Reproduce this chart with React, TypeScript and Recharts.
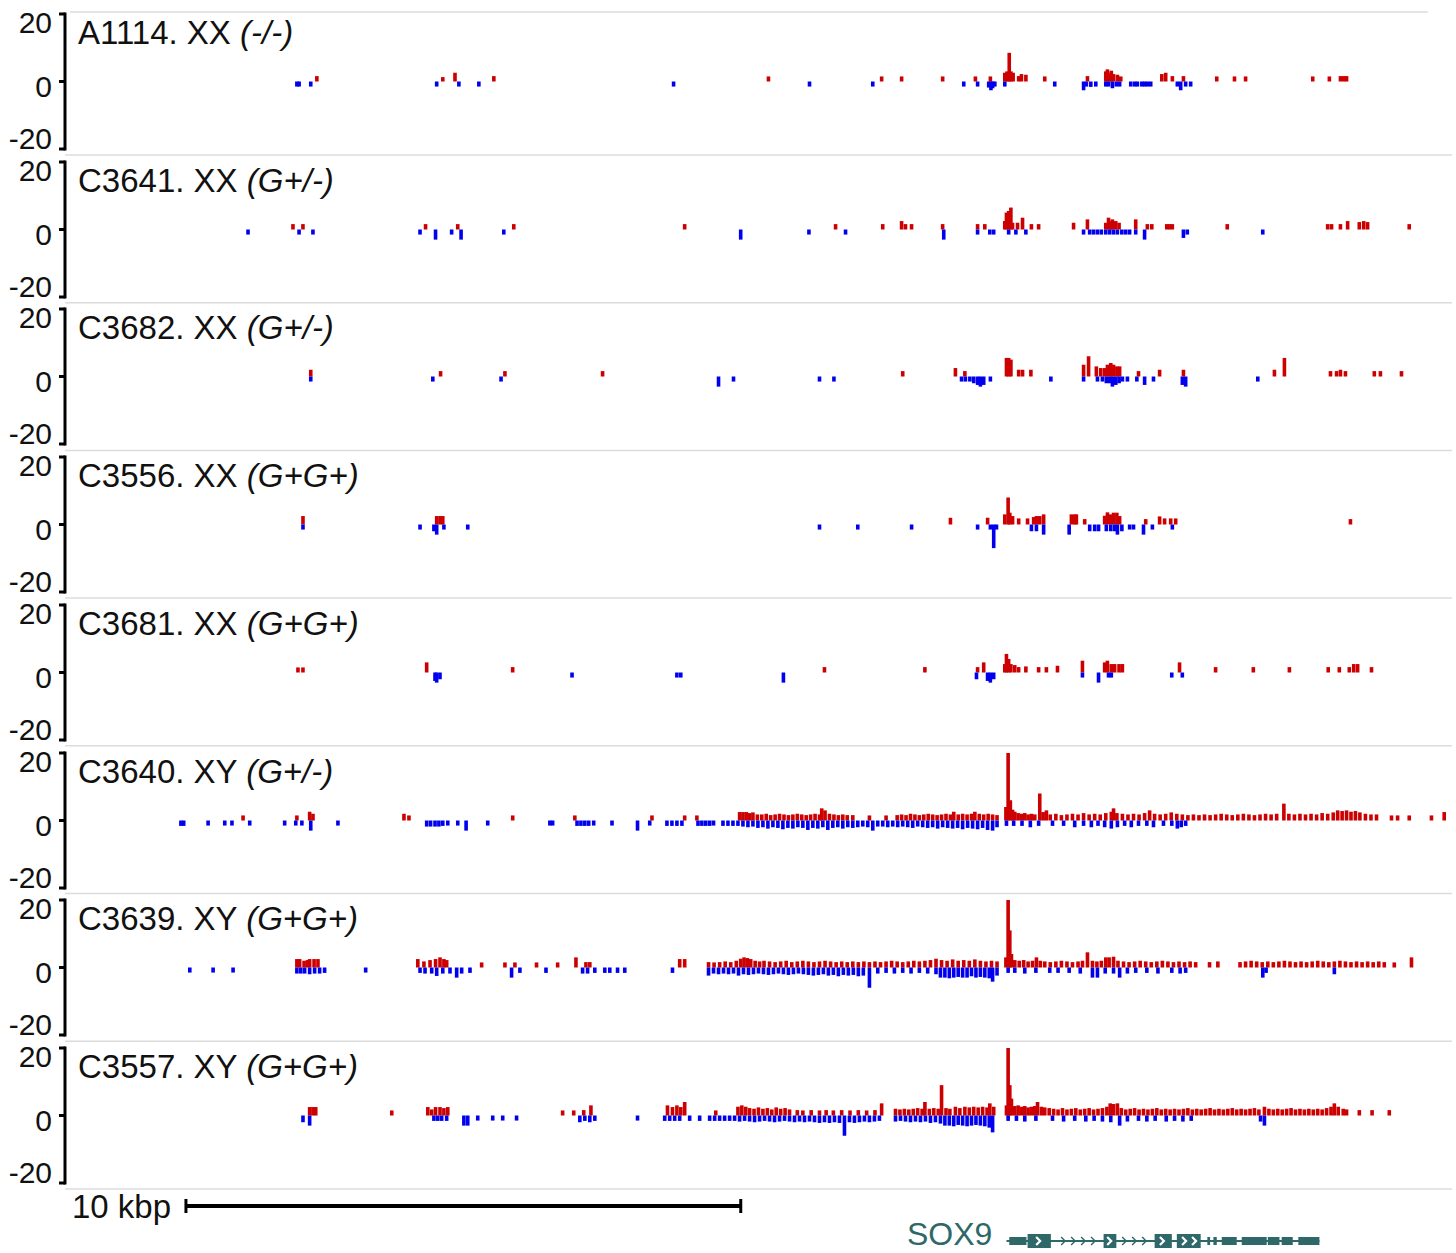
import React from "react";
import {
  Bar,
  ComposedChart,
  ReferenceArea,
  ReferenceLine,
  Scatter,
  XAxis,
  YAxis,
} from "recharts";

// positions in kb from the left edge of the view, values are read counts (+ red / - blue)
const a1114Up = [[4.54,1.6],[6.81,1.3],[7.03,2.6],[7.73,1.6],[12.68,1.5],[14.72,1.5],[15.08,1.5],[15.82,1.5],[16.41,1.5],[16.68,1.5],[16.94,2.6],[16.98,3],[17.02,8.5],[17.05,3],[17.09,2.6],[17.19,1.6],[17.24,2.2],[17.32,2],[17.66,1.5],[18.43,1.6],[18.76,3],[18.79,3.6],[18.83,2.6],[18.86,3.2],[18.9,2.2],[18.97,2],[19.03,1.5],[19.77,2.2],[19.84,2.6],[19.96,1.6],[20.16,1.6],[20.76,1.5],[21.08,1.5],[21.28,1.5],[22.49,1.5],[22.79,1.5],[22.99,1.6],[23.05,1.6],[23.1,1.6]];
const a1114Down = [[4.18,-1.5],[4.22,-1.5],[4.43,-1.5],[6.7,-1.5],[7.1,-1.5],[7.46,-1.5],[10.97,-1.5],[13.42,-1.5],[14.56,-1.5],[16.2,-1.5],[16.45,-1.5],[16.65,-1.8],[16.69,-2.6],[16.72,-2],[16.76,-1.5],[16.94,-1.5],[17.84,-1.5],[18.36,-2.6],[18.41,-1.5],[18.49,-1.6],[18.58,-1.5],[18.76,-1.5],[18.81,-1.5],[18.88,-2],[18.95,-1.5],[19.01,-1.5],[19.21,-1.5],[19.28,-1.5],[19.33,-1.5],[19.41,-1.5],[19.46,-1.5],[19.51,-1.5],[19.57,-1.5],[20.05,-1.5],[20.11,-2.6],[20.2,-1.5],[20.29,-1.5]];

const c3641Up = [[4.11,1.6],[4.29,1.6],[6.5,1.6],[7.08,1.6],[8.09,1.6],[11.17,1.6],[13.89,1.6],[14.74,1.6],[15.08,2.5],[15.15,1.6],[15.26,1.6],[15.82,1.6],[16.45,1.6],[16.58,1.6],[16.94,2.5],[16.97,5],[17.01,5.5],[17.05,6.5],[17.08,2],[17.17,2],[17.26,3.5],[17.42,1.6],[17.55,1.6],[18.18,2],[18.43,3],[18.76,2],[18.81,3.5],[18.85,2.5],[18.88,3],[18.94,2.5],[19.0,2],[19.3,3],[19.51,1.6],[19.59,1.6],[19.86,1.6],[19.91,1.6],[19.96,1.6],[20.95,1.6],[22.76,1.6],[22.83,1.6],[22.99,1.6],[23.12,2.5],[23.33,2.2],[23.41,2.5],[23.48,2.2],[24.23,1.6]];
const c3641Down = [[3.3,-1.5],[4.22,-1.5],[4.47,-1.5],[6.4,-1.5],[6.68,-3],[6.97,-1.5],[7.14,-3],[7.91,-1.5],[12.18,-3],[13.41,-1.5],[14.07,-1.5],[15.84,-3],[16.45,-1.5],[16.67,-1.5],[16.74,-1.5],[17.01,-1.5],[17.14,-1.5],[17.32,-1.5],[18.36,-1.5],[18.47,-1.5],[18.54,-1.5],[18.61,-1.5],[18.68,-1.5],[18.76,-1.5],[18.83,-1.5],[18.9,-1.5],[18.97,-1.5],[19.05,-1.5],[19.12,-1.5],[19.19,-1.5],[19.3,-1.5],[19.46,-3],[20.16,-2.5],[20.23,-1.5],[21.59,-1.5]];

const c3682Up = [[4.43,2],[6.77,1.6],[7.93,1.6],[9.69,1.6],[15.1,1.6],[16.05,2.5],[16.22,1.6],[16.97,5.5],[17.01,5.5],[17.05,5],[17.19,2],[17.26,2],[17.41,2],[18.36,3.5],[18.45,6],[18.59,3],[18.67,2.5],[18.74,2.5],[18.79,3.5],[18.85,4],[18.9,3.5],[18.96,3],[19.01,3],[19.35,1.6],[19.73,2],[20.16,2],[21.8,2],[21.98,5.5],[22.81,1.6],[22.92,1.6],[22.99,2],[23.08,1.6],[23.6,1.6],[23.71,1.6],[24.09,1.6]];
const c3682Down = [[4.43,-1.5],[6.63,-1.5],[7.86,-1.5],[11.78,-3],[12.05,-1.5],[13.6,-1.5],[13.86,-1.5],[16.16,-1.5],[16.23,-1.5],[16.31,-1.5],[16.38,-2],[16.45,-2.5],[16.5,-3],[16.56,-2.5],[16.68,-1.5],[17.77,-1.5],[18.36,-1.5],[18.61,-1.5],[18.7,-1.5],[18.77,-2],[18.83,-2],[18.88,-3],[18.94,-2.5],[19.0,-2],[19.06,-1.5],[19.15,-1.5],[19.32,-1.5],[19.46,-2.5],[19.62,-1.5],[20.14,-2.5],[20.2,-3],[21.5,-1.5]];

const c3556Up = [[4.29,2.5],[6.7,2.5],[6.76,2.5],[6.81,2.5],[15.96,2],[16.63,2],[16.94,3],[17.0,8],[17.03,3.5],[17.08,2.5],[17.19,1.8],[17.35,1.8],[17.46,2.2],[17.51,2.5],[17.57,2.5],[17.64,3],[18.14,3],[18.2,3],[18.23,3],[18.38,1.6],[18.74,2.6],[18.79,3.6],[18.85,3],[18.9,3.5],[18.96,3.5],[19.01,2.5],[19.48,1.6],[19.73,2.4],[19.82,1.8],[19.93,1.8],[20.02,1.8],[23.17,1.6]];
const c3556Down = [[4.29,-1.5],[6.4,-1.5],[6.65,-2],[6.7,-3],[6.83,-1.5],[7.26,-1.5],[13.6,-1.5],[14.29,-1.5],[15.26,-1.5],[16.45,-1.5],[16.68,-1.5],[16.74,-7],[16.79,-1.5],[17.42,-2],[17.51,-2],[17.64,-3],[18.1,-3],[18.47,-2],[18.56,-2],[18.63,-2],[18.77,-2],[18.85,-2],[18.92,-2],[18.97,-3],[19.05,-2],[19.19,-1.5],[19.26,-1.5],[19.44,-3],[19.6,-1.5],[19.96,-1.5]];

const c3681Up = [[4.2,1.5],[4.29,1.5],[6.52,3],[8.07,1.6],[13.69,1.6],[15.5,1.6],[16.45,1.6],[16.56,3],[16.94,2.5],[16.97,5.5],[17.01,4],[17.05,2.5],[17.12,2.2],[17.19,1.6],[17.32,1.8],[17.55,1.6],[17.69,1.6],[17.89,2],[18.34,3.5],[18.74,3],[18.79,3.5],[18.86,2.5],[18.92,2.5],[19.0,2.5],[19.06,2.5],[20.09,3],[20.74,1.6],[21.42,1.6],[22.07,1.6],[22.77,1.6],[22.97,1.6],[23.15,1.6],[23.23,2.5],[23.3,2.5],[23.55,1.6]];
const c3681Down = [[6.67,-2.5],[6.7,-3],[6.76,-2],[9.14,-1.5],[11.03,-1.5],[11.1,-1.5],[12.95,-3],[16.43,-2],[16.63,-2.5],[16.68,-3],[16.74,-2],[18.34,-1.5],[18.63,-3],[18.81,-1.5],[18.86,-1.5],[19.95,-1.5],[20.14,-1.5]];

const c3640Up = [[3.21,1.5],[4.18,1.5],[4.41,2.6],[4.47,2],[6.11,2],[6.2,1.5],[8.07,1.5],[9.19,1.5],[10.58,1.5],[11.17,1.5],[11.39,1.5],
  [12.16,2.5],[12.22,2.5],[12.28,2.5],[12.34,2.2],[12.4,2.4],[12.48,1.8],[12.56,1.8],[12.64,2],[12.72,1.6],[12.8,1.8],[12.88,2],[12.96,1.8],[13.04,1.6],[13.12,1.8],[13.2,2],[13.28,1.8],[13.36,1.6],[13.44,1.8],[13.52,2],[13.6,1.8],[13.64,3.6],[13.7,3],[13.78,2],[13.86,1.8],[13.94,1.6],[14.02,1.8],[14.1,1.6],[14.2,1.6],[14.5,1.5],[14.8,1.5],
  [15.0,1.6],[15.08,1.8],[15.16,1.6],[15.24,2],[15.32,1.8],[15.4,1.6],[15.48,1.8],[15.56,2],[15.64,1.8],[15.72,1.6],[15.8,1.8],[15.88,2],[15.96,1.8],[16.02,2.6],[16.1,1.8],[16.18,2],[16.26,1.8],[16.34,2],[16.4,2.6],[16.48,2],[16.56,1.8],[16.64,2],[16.72,1.8],[16.8,1.6],
  [16.96,4],[17.0,20],[17.04,6],[17.08,3.2],[17.12,2.6],[17.18,2.2],[17.24,2],[17.3,2.2],[17.36,1.8],[17.42,2],[17.48,1.8],[17.57,8],[17.63,2.5],[17.69,3],
  [17.76,1.8],[17.86,2],[17.96,1.6],[18.06,1.8],[18.16,2],[18.26,1.8],[18.36,2.2],[18.46,1.8],[18.56,2],[18.66,1.8],[18.76,2.2],[18.86,2.6],[18.9,3.6],[18.96,2.2],[19.06,2],[19.16,1.8],[19.26,2],[19.36,1.8],[19.46,2.2],[19.55,3],[19.64,2],[19.74,1.8],[19.84,2],[19.94,2.4],[20.04,2],[20.14,1.8],[20.24,1.6],[20.34,1.8],[20.44,1.6],[20.54,1.8],[20.64,1.6],[20.74,1.8],[20.84,2],[20.94,1.8],[21.04,1.6],[21.14,1.8],[21.24,2],[21.34,1.8],[21.44,1.6],[21.54,1.8],[21.64,2],[21.74,1.8],[21.84,2],[21.97,5],[22.06,2],[22.16,1.8],[22.26,2],[22.36,1.8],[22.46,2],[22.56,1.8],[22.66,2.2],[22.76,2],[22.86,2.4],[22.94,3],[23.02,2.8],[23.1,3],[23.18,2.6],[23.26,2.8],[23.34,2.4],[23.44,2],[23.54,1.8],[23.64,1.8],
  [23.91,1.5],[24.02,1.5],[24.23,1.5],[24.63,1.5],[24.86,2.5]];
const c3640Down = [[2.09,-1.6],[2.14,-1.6],[2.58,-1.5],[2.88,-1.5],[3.01,-1.5],[3.33,-1.5],[3.96,-1.5],[4.16,-1.5],[4.27,-1.5],[4.43,-3],[4.92,-1.5],[6.52,-1.8],[6.59,-1.8],[6.67,-1.8],[6.74,-1.8],[6.81,-1.6],[6.9,-1.5],[7.08,-1.5],[7.23,-3],[7.62,-1.5],[8.74,-1.5],[8.79,-1.5],[9.23,-1.6],[9.3,-1.6],[9.37,-1.6],[9.44,-1.6],[9.53,-1.5],[9.86,-1.5],[10.32,-3],[10.54,-1.5],[10.85,-1.6],[10.94,-1.6],[11.03,-1.6],[11.12,-1.6],[11.41,-1.6],[11.48,-1.6],[11.55,-1.6],[11.62,-1.6],[11.69,-1.5],[11.86,-1.6],[11.95,-1.6],[12.04,-1.6],[12.13,-1.6],
  [12.22,-1.8],[12.31,-2],[12.4,-1.8],[12.49,-2.2],[12.58,-2],[12.67,-2.4],[12.76,-2],[12.85,-2.2],[12.94,-2.6],[13.03,-2.2],[13.12,-2.4],[13.21,-2],[13.3,-2.2],[13.39,-2.8],[13.48,-2.2],[13.57,-2.4],[13.66,-2],[13.75,-2.8],[13.84,-2.2],[13.93,-2],[14.02,-2.4],[14.11,-2],[14.2,-2.2],[14.29,-2],[14.38,-1.8],[14.47,-2],[14.56,-3],[14.65,-1.8],[14.74,-1.8],[14.83,-2],[14.92,-1.8],[15.01,-2],[15.1,-1.8],[15.19,-2],[15.28,-2.2],[15.37,-1.8],[15.46,-2],[15.55,-2.2],[15.64,-2],[15.73,-2.4],[15.82,-2],[15.91,-2.2],[16.0,-2.4],[16.09,-2.2],[16.18,-2.6],[16.27,-2.2],[16.36,-2.4],[16.45,-2.6],[16.54,-2.2],[16.63,-2.8],[16.72,-3],[16.8,-2],
  [16.97,-1.6],[17.1,-1.6],[17.25,-1.6],[17.4,-2],[17.55,-1.6],[17.8,-1.6],[18.0,-1.6],[18.2,-2],[18.36,-1.6],[18.5,-2],[18.62,-1.6],[18.74,-2],[18.86,-2.4],[18.97,-2],[19.1,-1.6],[19.22,-2],[19.35,-1.6],[19.5,-1.6],[19.62,-2],[19.8,-1.6],[19.95,-1.6],[20.05,-2.4],[20.12,-2],[20.2,-1.6]];

const c3639Up = [[4.18,2.5],[4.23,2.5],[4.31,2],[4.37,2.2],[4.41,2.5],[4.49,2.5],[4.56,2.5],[6.36,2.5],[6.47,1.8],[6.58,2.2],[6.68,2.5],[6.76,3],[6.83,2.5],[6.88,2.2],[7.51,1.5],[7.93,1.5],[8.11,1.5],[8.5,1.5],[8.88,1.5],[9.21,3],[9.39,1.6],[9.46,1.6],[11.08,2.5],[11.17,2.5],
  [11.6,1.6],[11.7,1.5],[11.8,1.6],[11.9,1.8],[12.0,1.6],[12.1,2],[12.18,2.6],[12.24,3],[12.3,2.8],[12.36,2.5],[12.44,2],[12.52,1.8],[12.6,2],[12.7,1.8],[12.8,1.6],[12.9,1.8],[13.0,2],[13.1,1.6],[13.2,1.8],[13.3,2],[13.4,1.8],[13.5,1.6],[13.6,1.8],[13.7,2],[13.8,1.8],[13.9,1.6],[14.0,1.8],[14.1,1.6],[14.2,1.8],[14.3,1.6],[14.4,1.8],[14.5,1.6],[14.6,1.8],[14.7,1.6],[14.8,1.8],[14.9,2],[15.0,1.8],[15.1,1.6],[15.2,1.8],[15.3,2],[15.4,1.8],[15.5,2],[15.6,2.2],[15.7,2.6],[15.8,2.2],[15.9,2],[16.0,2.4],[16.1,2],[16.2,2.2],[16.3,2],[16.4,2.4],[16.5,2],[16.6,1.8],[16.7,2],[16.8,1.8],
  [16.96,3],[17.0,20.5],[17.03,11],[17.06,4],[17.12,2.2],[17.2,2],[17.28,2.2],[17.36,1.8],[17.44,2],[17.51,3],[17.58,2],
  [17.66,1.8],[17.76,1.6],[17.86,1.8],[17.96,2],[18.06,1.8],[18.16,1.6],[18.26,1.8],[18.34,2],[18.43,4.5],[18.52,2],[18.6,1.8],[18.68,2],[18.76,3],[18.82,3],[18.9,3.2],[18.98,2],[19.08,1.8],[19.18,1.6],[19.28,1.8],[19.38,2],[19.48,1.8],[19.58,1.6],[19.68,1.8],[19.78,2],[19.88,1.8],[19.98,1.6],[20.08,1.8],[20.18,1.6],[20.28,1.8],[20.38,1.6],[20.63,1.6],[20.78,1.8],
  [21.18,1.6],[21.28,1.8],[21.38,2],[21.48,1.8],[21.58,1.6],[21.68,1.8],[21.78,1.6],[21.88,1.8],[21.98,2],[22.08,1.8],[22.18,1.6],[22.28,1.8],[22.38,1.6],[22.48,1.8],[22.58,2],[22.68,1.8],[22.78,1.6],[22.88,1.8],[22.98,2],[23.08,1.8],[23.18,1.6],[23.28,1.8],[23.38,1.6],[23.48,1.8],[23.58,1.6],[23.68,1.8],[23.78,1.6],
  [23.96,1.5],[24.27,3]];
const c3639Down = [[2.25,-1.5],[2.67,-1.5],[3.03,-1.5],[4.18,-1.8],[4.25,-1.8],[4.32,-1.8],[4.41,-2],[4.5,-1.8],[4.59,-1.8],[4.68,-1.6],[5.42,-1.5],[6.4,-1.6],[6.49,-1.8],[6.61,-1.8],[6.7,-2.5],[6.81,-1.8],[6.94,-1.8],[7.06,-3],[7.15,-1.8],[7.3,-1.6],[8.05,-3],[8.2,-1.6],[8.67,-1.6],[9.33,-1.8],[9.42,-1.8],[9.55,-1.6],[9.73,-1.6],[9.82,-1.6],[9.96,-1.6],[10.09,-1.6],[10.95,-1.6],
  [11.6,-2.4],[11.69,-1.8],[11.78,-2],[11.87,-1.8],[11.96,-2],[12.05,-1.8],[12.14,-2.4],[12.23,-2],[12.32,-2.2],[12.41,-2],[12.5,-1.8],[12.59,-2],[12.68,-2.2],[12.77,-2],[12.86,-1.8],[12.95,-2],[13.04,-2.2],[13.13,-2],[13.22,-1.8],[13.31,-2],[13.4,-2.2],[13.49,-2.4],[13.58,-2.2],[13.67,-2],[13.76,-2.4],[13.85,-2.2],[13.94,-2.6],[14.03,-2.2],[14.12,-2.4],[14.21,-2.2],[14.3,-2.6],[14.39,-2.4],[14.5,-6],
  [14.65,-1.8],[14.8,-1.6],[14.95,-1.8],[15.1,-1.6],[15.25,-1.8],[15.4,-1.6],[15.55,-1.8],[15.7,-2],[15.78,-3],[15.86,-3],[15.94,-3.2],[16.02,-3],[16.1,-2.8],[16.18,-3],[16.26,-3],[16.34,-2.6],[16.42,-3],[16.5,-2.8],[16.58,-3],[16.66,-3.2],[16.72,-4.2],[16.8,-2.4],
  [17.0,-1.6],[17.12,-1.6],[17.3,-1.8],[17.5,-1.6],[17.75,-1.6],[17.9,-1.6],[18.1,-1.6],[18.3,-1.8],[18.52,-3],[18.61,-3],[18.75,-1.8],[18.9,-1.8],[19.01,-3],[19.15,-1.8],[19.3,-1.6],[19.5,-1.6],[19.7,-1.8],[19.95,-1.6],[20.1,-1.8],[20.2,-1.6],[21.59,-3],[21.65,-1.6],[22.88,-2]];

const c3557Up = [[4.41,2.5],[4.47,2.5],[4.52,2.5],[5.89,1.5],[6.54,2.5],[6.61,1.8],[6.68,2.5],[6.76,2.5],[6.83,2.2],[6.9,2.5],[8.97,1.5],[9.17,1.5],[9.35,1.6],[9.48,3],[10.86,3],[10.95,2.5],[11.03,3],[11.1,2.5],[11.17,4],[11.73,1.5],
  [12.13,2.6],[12.2,3],[12.27,2.6],[12.34,2.2],[12.42,2],[12.5,2.4],[12.58,2],[12.66,2.2],[12.74,1.8],[12.82,2.4],[12.9,2],[12.98,2.2],[13.06,1.8],[13.2,1.6],[13.3,1.5],[13.45,1.6],[13.6,1.5],[13.72,1.6],[13.85,1.5],[14.0,1.6],[14.15,1.5],[14.3,1.6],[14.45,1.5],[14.6,1.6],[14.72,3.6],
  [14.97,2],[15.05,1.8],[15.13,2],[15.21,1.8],[15.29,2],[15.37,2.2],[15.45,2],[15.5,4],[15.58,2],[15.66,2.2],[15.74,2],[15.8,9],[15.88,2.2],[15.95,2],[16.05,2.6],[16.13,2.2],[16.22,2.6],[16.3,2.4],[16.38,2.6],[16.46,2.4],[16.54,2.6],[16.62,2.4],[16.67,3.6],[16.74,2.6],
  [16.97,3],[17.0,20],[17.03,9],[17.06,5],[17.12,2.8],[17.18,3],[17.24,2.6],[17.3,2.8],[17.36,2.4],[17.42,2.6],[17.48,2.8],[17.53,4],[17.6,2.6],[17.66,2.4],[17.74,2.2],
  [17.82,2],[17.9,1.8],[17.98,2.2],[18.06,1.8],[18.14,2],[18.22,2.2],[18.3,1.8],[18.38,2],[18.46,2.2],[18.54,1.8],[18.62,2],[18.7,2.2],[18.78,2.6],[18.84,3.6],[18.9,3.4],[18.97,3.6],[19.04,2.2],[19.12,1.8],[19.2,2],[19.28,2.2],[19.36,1.8],[19.44,2],[19.52,1.8],[19.6,2],[19.68,2.2],[19.76,1.8],[19.84,2],[19.92,1.8],[20.0,2],[20.08,1.8],[20.16,2],[20.24,2.2],[20.32,1.8],[20.4,2],[20.48,1.8],[20.56,2],[20.64,2.2],[20.72,1.8],[20.8,2],[20.88,1.8],[20.96,2],[21.04,2.2],[21.12,1.8],[21.2,2],[21.28,1.8],[21.36,2],[21.44,2.2],[21.52,1.8],[21.62,2.6],[21.7,2],[21.78,1.8],[21.86,2],[21.94,1.8],[22.02,2],[22.1,2.2],[22.18,1.8],[22.26,2],[22.34,1.8],[22.42,2],[22.5,1.8],[22.58,2],[22.66,1.8],[22.74,2.2],[22.82,2.6],[22.88,3.6],[22.95,2.6],[23.04,2],[23.1,1.8],
  [23.33,1.6],[23.56,1.6],[23.87,1.6]];
const c3557Down = [[4.29,-2],[4.41,-3],[6.65,-1.6],[6.72,-1.6],[6.79,-1.6],[6.88,-1.6],[7.19,-3],[7.26,-3],[7.44,-1.5],[7.71,-1.5],[7.89,-1.5],[8.14,-1.5],[9.28,-2],[9.37,-1.6],[9.46,-2],[9.55,-1.6],[10.32,-1.5],[10.81,-1.6],[10.9,-1.6],[10.99,-1.6],[11.08,-1.6],[11.26,-1.6],[11.44,-1.6],[11.62,-1.6],[11.71,-1.6],[11.8,-1.6],[11.89,-1.6],[11.98,-1.6],[12.07,-1.6],
  [12.16,-1.8],[12.25,-1.6],[12.34,-1.8],[12.43,-2],[12.52,-1.8],[12.61,-1.6],[12.7,-1.8],[12.79,-2],[12.88,-1.8],[12.97,-1.6],[13.06,-1.8],[13.15,-2],[13.24,-1.8],[13.33,-2],[13.42,-1.8],[13.51,-2],[13.6,-2.2],[13.69,-2],[13.78,-2.2],[13.87,-2],[13.96,-2.2],[14.05,-6],[14.14,-2],[14.23,-2.2],[14.32,-2],[14.41,-1.8],[14.5,-2],[14.59,-1.8],[14.68,-1.6],
  [14.97,-1.8],[15.06,-1.6],[15.15,-1.8],[15.24,-2],[15.33,-1.8],[15.42,-2],[15.51,-1.8],[15.6,-2.2],[15.69,-2],[15.78,-2.4],[15.86,-3],[15.94,-3],[16.02,-3.2],[16.1,-2.8],[16.18,-3],[16.26,-3.2],[16.34,-3],[16.42,-2.8],[16.5,-3],[16.58,-3.2],[16.66,-3.6],[16.72,-5],
  [17.0,-1.6],[17.15,-1.6],[17.3,-1.8],[17.5,-1.6],[17.8,-1.6],[18.0,-1.8],[18.2,-1.6],[18.4,-1.8],[18.55,-1.6],[18.7,-1.8],[18.85,-2],[19.01,-3],[19.15,-1.8],[19.35,-1.6],[19.5,-1.8],[19.65,-1.6],[19.85,-1.8],[20.0,-1.6],[20.15,-1.8],[20.3,-1.6],[21.55,-1.8],[21.62,-3]];

const sampleIds = ["A1114. XX ", "C3641. XX ", "C3682. XX ", "C3556. XX ", "C3681. XX ", "C3640. XY ", "C3639. XY ", "C3557. XY "];
const genotypes = ["(-/-)", "(G+/-)", "(G+/-)", "(G+G+)", "(G+G+)", "(G+/-)", "(G+G+)", "(G+G+)"];
const tracksUp = [a1114Up, c3641Up, c3682Up, c3556Up, c3681Up, c3640Up, c3639Up, c3557Up];
const tracksDown = [a1114Down, c3641Down, c3682Down, c3556Down, c3681Down, c3640Down, c3639Down, c3557Down];
const yTicks = [-20, 0, 20];

// SOX9 gene model (kb)
const sox9Span = [16.97, 22.61];
const sox9Exons = [[17.35, 17.77], [18.72, 18.95], [19.64, 19.95], [20.04, 20.47]];
const sox9Utr = [[17.02, 17.33], [20.59, 20.64], [20.7, 20.76], [20.85, 21.12], [21.21, 21.66], [21.68, 21.89], [21.93, 22.13], [22.23, 22.61]];
const sox9LineArrows = [18.0, 18.18, 18.36, 18.54, 19.1, 19.28, 19.46];
const sox9BoxArrows = [17.55, 18.83, 19.78, 20.18, 20.36];
const scaleBar = [2.18, 12.18];

const RED = "#cc0000";
const BLUE = "#0000ee";
const TEAL = "#2f6868";
const FONT = "'Liberation Sans', Arial, sans-serif";
const W = 1456;
const PANEL = 147.7;
const X_DOMAIN = [0, 25];

function CountBar(props: any) {
  const { x, y, width, height, payload } = props;
  if (x == null || !height) return <g />;
  const cx = x + width / 2;
  const top = Math.min(y, y + height);
  return (
    <rect
      x={cx - 1.8}
      y={top}
      width={3.6}
      height={Math.abs(height)}
      fill={payload.v >= 0 ? RED : BLUE}
    />
  );
}

function YTick(props: any) {
  const { x, y, payload } = props;
  const v = payload.value;
  const dy = v > 0 ? 19 : v === 0 ? 15 : 0;
  return (
    <text x={x} y={y + dy} textAnchor="end" fontSize={30} fontFamily={FONT} fill="#111">
      {v}
    </text>
  );
}

function Track({ up, down }: { up: number[][]; down: number[][] }) {
  const data = [...up, ...down].map(([x, v]) => ({ x, v }));
  return (
    <ComposedChart width={W} height={160} data={data} margin={{ top: 14, right: 4, bottom: 11, left: 0 }}>
      <XAxis type="number" dataKey="x" domain={X_DOMAIN} hide allowDataOverflow />
      <YAxis
        type="number"
        domain={[-20, 20]}
        ticks={yTicks}
        interval={0}
        allowDataOverflow
        width={65}
        tickSize={6}
        tickMargin={7}
        axisLine={{ stroke: "#000", strokeWidth: 3, strokeLinecap: "square" }}
        tickLine={{ stroke: "#000", strokeWidth: 3 }}
        tick={<YTick />}
      />
      <Bar dataKey="v" barSize={3} shape={CountBar} isAnimationActive={false} />
    </ComposedChart>
  );
}

function Chevron(props: any) {
  const { cx, cy, payload } = props;
  const white = payload.inBox;
  return (
    <path
      d={`M${cx - 2.5},${cy - 4} L${cx + 1.5},${cy} L${cx - 2.5},${cy + 4}`}
      fill="none"
      stroke={white ? "#fff" : TEAL}
      strokeWidth={white ? 2.2 : 1.4}
    />
  );
}

function GeneTrack() {
  const lane = 51;
  const arrows = [
    ...sox9LineArrows.map((x) => ({ x, y: lane, inBox: false })),
    ...sox9BoxArrows.map((x) => ({ x, y: lane, inBox: true })),
  ];
  return (
    <ComposedChart width={W} height={63} margin={{ top: 0, right: 4, bottom: 0, left: 65 }}>
      <XAxis type="number" dataKey="x" domain={X_DOMAIN} hide allowDataOverflow />
      <YAxis type="number" dataKey="y" domain={[0, 63]} reversed hide />
      <ReferenceLine
        segment={[{ x: scaleBar[0], y: 16 }, { x: scaleBar[1], y: 16 }]}
        stroke="#000"
        strokeWidth={4}
      />
      <ReferenceLine segment={[{ x: scaleBar[0], y: 9 }, { x: scaleBar[0], y: 23 }]} stroke="#000" strokeWidth={3} />
      <ReferenceLine segment={[{ x: scaleBar[1], y: 9 }, { x: scaleBar[1], y: 23 }]} stroke="#000" strokeWidth={3} />
      <ReferenceLine segment={[{ x: sox9Span[0], y: lane }, { x: sox9Span[1], y: lane }]} stroke={TEAL} strokeWidth={2} />
      {sox9Utr.map(([a, b], i) => (
        <ReferenceArea key={"u" + i} x1={a} x2={b} y1={lane - 4} y2={lane + 4} fill={TEAL} fillOpacity={1} stroke="none" />
      ))}
      {sox9Exons.map(([a, b], i) => (
        <ReferenceArea key={"e" + i} x1={a} x2={b} y1={lane - 7} y2={lane + 7} fill={TEAL} fillOpacity={1} stroke="none" />
      ))}
      <Scatter data={arrows} dataKey="y" shape={Chevron} isAnimationActive={false} />
    </ComposedChart>
  );
}

export default function App() {
  return (
    <div style={{ position: "absolute", left: 0, top: 0, width: W, height: 1253, overflow: "hidden", background: "#fff" }}>
      <svg width={W} height={1253} style={{ position: "absolute", left: 0, top: 0 }}>
        <line x1={70} x2={1428} y1={12} y2={12} stroke="#dcdcdc" strokeWidth={1.5} />
        {sampleIds.map((_, i) => (
          <line key={i} x1={65} x2={1452} y1={155 + PANEL * i} y2={155 + PANEL * i} stroke="#dcdcdc" strokeWidth={1.5} />
        ))}
      </svg>
      {tracksUp.map((up, i) => (
        <div key={i} style={{ position: "absolute", left: 0, top: PANEL * i }}>
          <Track up={up} down={tracksDown[i]} />
        </div>
      ))}
      <div style={{ position: "absolute", left: 0, top: 1190 }}>
        <GeneTrack />
      </div>
      <svg width={W} height={1253} style={{ position: "absolute", left: 0, top: 0, pointerEvents: "none" }}>
        {sampleIds.map((id, i) => (
          <text key={i} x={78} y={PANEL * i + 44} fontSize={33} fontFamily={FONT} fill="#111">
            {id}
            <tspan fontStyle="italic">{genotypes[i]}</tspan>
          </text>
        ))}
        <text x={72} y={1218} fontSize={33} fontFamily={FONT} fill="#111">10 kbp</text>
        <text x={907} y={1245} fontSize={32} fontFamily={FONT} fill={TEAL}>SOX9</text>
      </svg>
    </div>
  );
}
